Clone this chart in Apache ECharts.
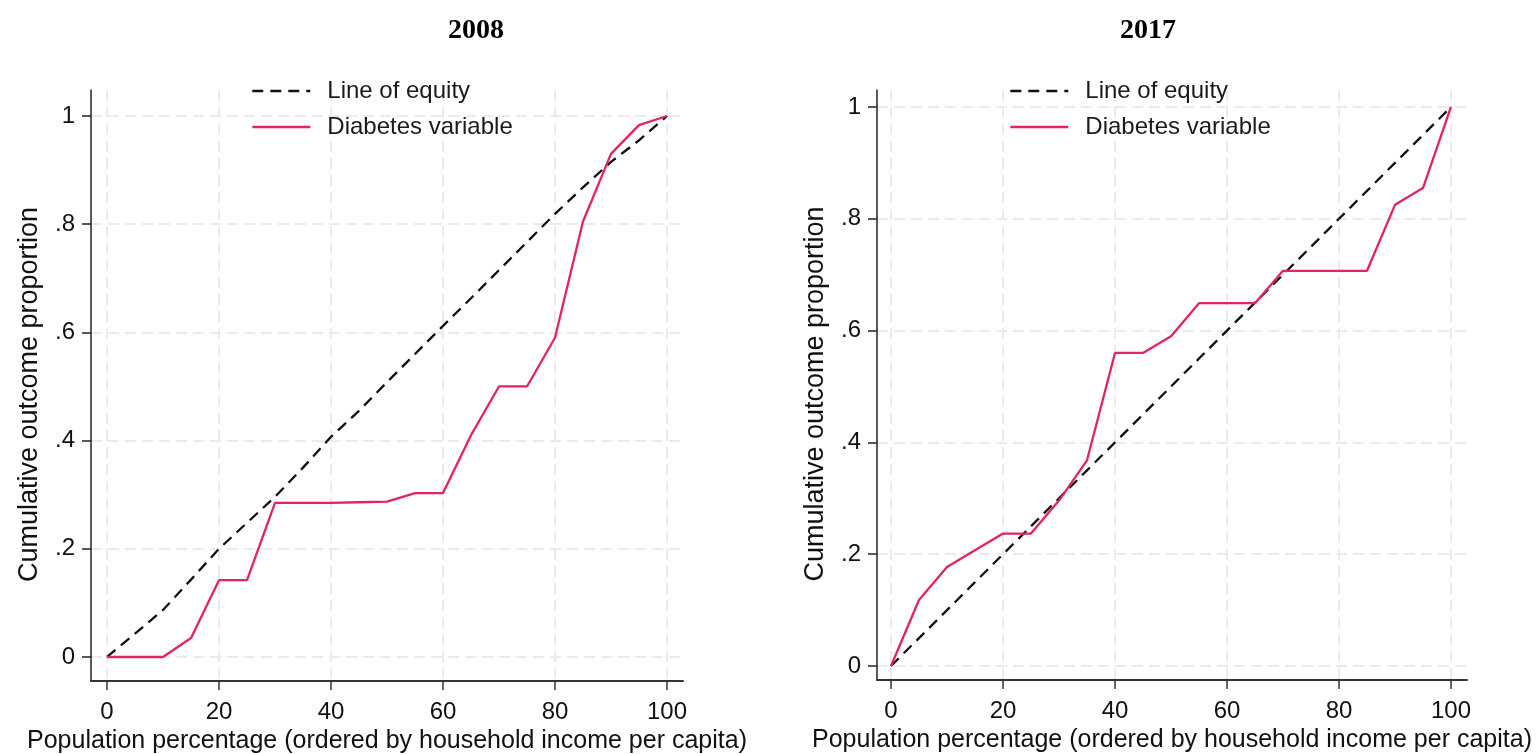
<!DOCTYPE html>
<html>
<head>
<meta charset="utf-8">
<script src="https://cdn.jsdelivr.net/npm/echarts@6/dist/echarts.min.js"></script>
<style>
html,body{margin:0;padding:0;background:#fff;}
#chart{width:1538px;height:754px;}
</style>
</head>
<body>
<div id="chart"></div>
<script>
// ---- data ----
const popPct = [0,5,10,15,20,25,30,35,40,45,50,55,60,65,70,75,80,85,90,95,100];
const equity2008 = [0,0.043,0.087,0.143,0.2,0.248,0.296,0.35,0.407,0.455,0.508,0.56,0.612,0.663,0.715,0.767,0.819,0.868,0.915,0.955,1];
const diabetes2008 = [0,0,0,0.035,0.142,0.142,0.285,0.285,0.285,0.286,0.287,0.303,0.303,0.41,0.5,0.5,0.59,0.805,0.93,0.983,1];
const equity2017 = [0,0.05,0.1,0.15,0.2,0.25,0.3,0.35,0.4,0.45,0.5,0.55,0.6,0.65,0.7,0.75,0.8,0.85,0.9,0.95,1];
const diabetes2017 = [0,0.118,0.177,0.207,0.237,0.237,0.296,0.368,0.56,0.56,0.59,0.649,0.649,0.649,0.707,0.707,0.707,0.707,0.825,0.855,1];
const xTickValues = [0,20,40,60,80,100];
const yTickValues = [0,0.2,0.4,0.6,0.8,1];
const yTickLabels = ['0','.2','.4','.6','.8','1'];
const panelTitles = ['2008','2017'];
const seriesNames = ['Line of equity','Diabetes variable'];
const xTitle = 'Population percentage (ordered by household income per capita)';
const yTitle = 'Cumulative outcome proportion';

function pairs(xs, ys){ return xs.map((x,i)=>[x, ys[i]]); }
function yLabel(v){
  for (let i=0;i<yTickValues.length;i++){ if (Math.abs(yTickValues[i]-v)<1e-6) return yTickLabels[i]; }
  return '';
}

const FONT = '"Liberation Sans", Arial, Helvetica, sans-serif';
const PINK = '#e3245f';
const grids = [
  {left:91, right:855, top:90, bottom:73, outerBoundsMode:'none', containLabel:false},
  {left:877, right:71, top:90, bottom:74, outerBoundsMode:'none', containLabel:false}
];
const xRanges = [[-2.86,102.86],[-2.5,102.86]];
const yRanges = [[-0.0444,1.048],[-0.025,1.0304]];

function xAxis(i){
  return {
    type:'value', gridIndex:i, min:xRanges[i][0], max:xRanges[i][1],
    name:xTitle, nameLocation:'middle', nameGap:45,
    nameTextStyle:{fontFamily:FONT, fontSize:25, color:'#111'},
    axisLine:{show:true, onZero:false, lineStyle:{color:'#333', width:2}},
    axisTick:{show:true, length:9, customValues:xTickValues, lineStyle:{color:'#333', width:1.5}},
    axisLabel:{customValues:xTickValues, margin:19, fontFamily:FONT, fontSize:24, color:'#111'},
    splitLine:{show:true, lineStyle:{color:'#ebebeb', width:2, type:[11,6]}}
  };
}
function yAxis(i){
  return {
    type:'value', gridIndex:i, min:yRanges[i][0], max:yRanges[i][1],
    name:yTitle, nameLocation:'middle', nameGap:48,
    nameTextStyle:{fontFamily:FONT, fontSize:27, color:'#111', padding:[0,18,0,0]},
    axisLine:{show:true, onZero:false, lineStyle:{color:'#222', width:1.5}},
    axisTick:{show:true, length:9, customValues:yTickValues, lineStyle:{color:'#222', width:1.5}},
    axisLabel:{customValues:yTickValues, margin:16, fontFamily:FONT, fontSize:24, color:'#111', formatter:yLabel},
    splitLine:{show:true, lineStyle:{color:'#ebebeb', width:2, type:[11,6]}}
  };
}
function legend(left){
  return {
    orient:'vertical', left:left, top:73, itemWidth:58, itemHeight:14, itemGap:10,
    itemStyle:{color:'rgba(0,0,0,0)', borderColor:'rgba(0,0,0,0)', borderWidth:0, opacity:0},
    lineStyle:{width:2.6},
    textStyle:{fontFamily:FONT, fontSize:24, color:'#1a1a1a', lineHeight:26, padding:[0,0,0,12]},
    data:seriesNames
  };
}
function lineSeries(i, name, data, isEquity){
  return {
    type:'line', name:name, xAxisIndex:i, yAxisIndex:i, data:data,
    showSymbol:false, symbol:'none', animation:false, z: isEquity?2:3,
    lineStyle: isEquity ? {color:'#111', width:2.3, type:[11,7]} : {color:PINK, width:2.3},
    itemStyle:{color: isEquity ? '#111' : PINK}
  };
}

const chart = echarts.init(document.getElementById('chart'), null, {renderer:'canvas'});
chart.setOption({
  backgroundColor:'#fff',
  animation:false,
  title:[
    {text:panelTitles[0], left:471, top:12, textAlign:'center', textStyle:{fontFamily:'"Liberation Serif", "Times New Roman", serif', fontWeight:'bold', fontSize:28, color:'#000'}},
    {text:panelTitles[1], left:1143, top:12, textAlign:'center', textStyle:{fontFamily:'"Liberation Serif", "Times New Roman", serif', fontWeight:'bold', fontSize:28, color:'#000'}}
  ],
  legend:[legend(246), legend(1004)],
  grid:grids,
  xAxis:[xAxis(0), xAxis(1)],
  yAxis:[yAxis(0), yAxis(1)],
  series:[
    lineSeries(0, seriesNames[0], pairs(popPct, equity2008), true),
    lineSeries(0, seriesNames[1], pairs(popPct, diabetes2008), false),
    lineSeries(1, seriesNames[0], pairs(popPct, equity2017), true),
    lineSeries(1, seriesNames[1], pairs(popPct, diabetes2017), false)
  ]
});
</script>
</body>
</html>
